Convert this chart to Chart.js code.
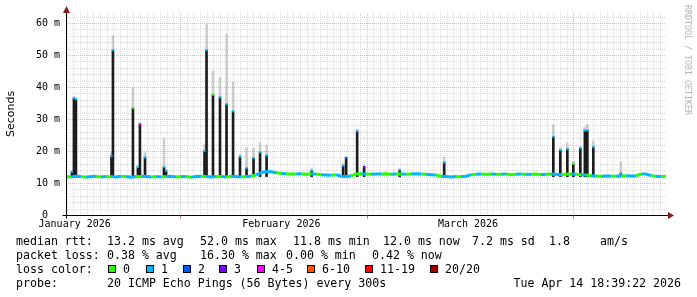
<!DOCTYPE html>
<html>
<head>
<meta charset="utf-8">
<script src="https://cdn.jsdelivr.net/npm/chart.js@4/dist/chart.umd.min.js"></script>
<style>
  html, body { margin: 0; padding: 0; background: #fff; }
  canvas { display: block; }
</style>
</head>
<body>
<canvas id="smokeChart" width="697" height="297"></canvas>
<script>
// time axis in days since Jan 1 2026 00:00
const START_DAY = 13.9;
const END_DAY = 103.9;
const STEP = 0.75;

// median rtt (ms) along the baseline, one value per step
const medianRtt = [
  12.0, 11.9, 12.1, 12.0, 11.8, 12.0, 12.1, 11.9, 12.0, 12.0,
  11.9, 12.1, 12.0, 11.8, 12.0, 12.0, 12.1, 11.9, 12.0, 11.9,
  12.0, 12.1, 11.9, 12.0, 12.0, 11.8, 12.0, 12.1, 12.0, 11.9,
  12.0, 12.0, 11.9, 12.1, 12.0, 11.9, 12.0, 12.1,
  12.5, 13.2, 13.6, 13.5, 13.2, 13.0, 12.9,
  12.8, 12.8, 12.9, 12.7, 12.8, 12.8, 12.6, 12.5, 12.4, 12.6,
  12.1, 12.0, 12.2,
  12.8, 12.9, 12.8, 12.7, 12.8, 12.8, 12.9, 12.7, 12.8, 12.8, 12.7, 12.8, 12.9, 12.8, 12.7, 12.6, 12.5,
  12.1, 12.0, 11.9, 12.0, 12.0, 12.1,
  12.6, 12.7, 12.8, 12.7, 12.8, 12.7, 12.7, 12.8, 12.6, 12.7, 12.8, 12.7,
  12.7, 12.8, 12.6, 12.7, 12.8, 12.7, 12.6, 12.7, 12.8, 12.7, 12.6, 12.5,
  12.3, 12.2, 12.1, 12.2, 12.2, 12.1, 12.2, 12.3, 12.2, 12.2,
  12.8, 12.8,
  12.3, 12.1, 12.0, 12.1
];
// lost pings (index into lossColors) for each baseline step
const medianLoss = [
  0, 1, 1, 0, 1, 1, 0, 1, 0, 1,
  1, 0, 1, 1, 0, 1, 1, 0, 1, 0,
  1, 1, 0, 1, 0, 1, 1, 0, 1, 1,
  0, 1, 0, 1, 1, 0, 1, 0,
  1, 1, 1, 1, 0, 1, 0,
  0, 1, 0, 0, 1, 0, 1, 1, 0, 1,
  1, 1, 0,
  0, 1, 0, 1, 1, 0, 0, 1, 0, 1, 0, 1, 1, 0, 1, 1, 0,
  1, 1, 1, 0, 1, 1,
  0, 1, 0, 0, 1, 0, 1, 0, 0, 1, 0, 1,
  0, 0, 1, 0, 1, 1, 0, 0, 1, 0, 1, 0,
  1, 0, 1, 1, 0, 1, 0, 1, 1, 0,
  1, 1,
  0, 1, 0, 1
];

// latency spikes
const spikeDays = [
  14.79, 15.09, 15.39, 20.72, 20.94, 23.94, 24.69, 24.99, 25.75, 28.6,
  28.9, 34.68, 34.98, 35.95, 37.0, 37.98, 38.96, 40.0, 40.98, 42.03,
  43.01, 43.99, 50.74, 55.47, 55.92, 57.57, 58.62, 63.95, 70.63, 87.0,
  88.05, 89.1, 90.0, 91.05, 91.73, 92.1, 93.0, 97.13
];
const spikeTops = [
  13.5, 36.5, 36.2, 18.4, 51.5, 33.4, 15.0, 28.4, 18.0, 15.0,
  13.8, 20.0, 51.5, 37.6, 36.8, 34.6, 32.4, 18.2, 14.6, 17.8,
  19.6, 18.6, 13.8, 15.4, 17.8, 26.2, 15.0, 14.0, 16.4, 24.4,
  20.3, 20.6, 16.0, 20.9, 26.4, 26.4, 21.2, 13.0
];
const spikeTails = [
  13.8, 37.0, 36.6, 19.5, 56.0, 39.7, 15.5, 28.8, 19.5, 24.0,
  14.2, 22.0, 59.5, 45.0, 43.0, 56.5, 41.5, 19.0, 21.0, 21.0,
  22.6, 21.9, 14.5, 16.0, 18.3, 26.8, 15.5, 14.5, 18.2, 28.2,
  21.0, 22.5, 16.8, 21.5, 27.5, 28.2, 23.2, 16.7
];
const spikeLoss = [
  1, 1, 1, 1, 1, 0, 1, 4, 1, 1,
  1, 1, 1, 0, 1, 1, 1, 1, 1, 1,
  1, 1, 1, 1, 2, 1, 3, 1, 1, 1,
  1, 1, 0, 1, 1, 1, 1, 1
];
const SPIKE_BASE = 12;

const lossLabels = ['0', '1', '2', '3', '4-5', '6-10', '11-19', '20/20'];
const lossColors = ['#26ff00', '#00b8ff', '#0059ff', '#7e00ff', '#ff00ff', '#ff5500', '#ff0000', '#a10000'];

const yTicks = [0, 10, 20, 30, 40, 50, 60];
const monthLabels = ['January 2026', 'February 2026', 'March 2026'];
const monthLabelDays = [15.2, 46.2, 74.2];
const monthStartDays = [31, 59, 90];

const rttStats = ['13.2 ms avg', '52.0 ms max', '11.8 ms min', '12.0 ms now', '7.2 ms sd', '1.8', 'am/s'];
const lossStats = ['0.38 % avg', '16.30 % max', '0.00 % min', '0.42 % now'];
const probeText = '20 ICMP Echo Pings (56 Bytes) every 300s';
const stampText = 'Tue Apr 14 18:39:22 2026';

// legend layout (px)
const rttStatX = [107, 200, 293, 383, 472, 549, 600];
const lossStatX = [107, 200, 286, 372];
const lossBoxX = [108, 146, 183, 219, 257, 307, 365, 430];
const legendRows = [245, 259, 273, 287];

const MONO = '"DejaVu Sans Mono", monospace';

const rrdDecor = {
  id: 'rrdDecor',
  beforeDatasetsDraw(chart) {
    const { ctx, chartArea: a, scales: { x, y } } = chart;
    ctx.save();
    ctx.lineWidth = 1;
    ctx.setLineDash([1, 1]);

    // minor grid
    ctx.strokeStyle = 'rgba(190,190,190,0.55)';
    ctx.beginPath();
    for (let d = Math.ceil(x.min); d <= x.max; d++) {
      if (monthStartDays.includes(d)) continue;
      const px = Math.round(x.getPixelForValue(d)) + 0.5;
      ctx.moveTo(px, a.top);
      ctx.lineTo(px, a.bottom);
    }
    for (let v = 2; v < y.max; v += 2) {
      if (v % 10 === 0) continue;
      const py = Math.round(y.getPixelForValue(v)) + 0.5;
      ctx.moveTo(a.left, py);
      ctx.lineTo(a.right, py);
    }
    ctx.stroke();

    // major grid
    ctx.strokeStyle = 'rgba(220,130,130,0.6)';
    ctx.beginPath();
    monthStartDays.forEach(d => {
      const px = Math.round(x.getPixelForValue(d)) + 0.5;
      ctx.moveTo(px, a.top);
      ctx.lineTo(px, a.bottom);
    });
    yTicks.forEach(v => {
      if (v === 0) return;
      const py = Math.round(y.getPixelForValue(v)) + 0.5;
      ctx.moveTo(a.left, py);
      ctx.lineTo(a.right, py);
    });
    ctx.stroke();
    ctx.restore();
  },
  afterDraw(chart) {
    const { ctx, chartArea: a, scales: { x, y } } = chart;
    ctx.save();
    ctx.setLineDash([]);
    ctx.lineWidth = 1;

    // axes
    const ax = Math.round(a.left) + 0.5;
    const ay = Math.round(a.bottom) + 0.5;
    ctx.strokeStyle = '#000';
    ctx.beginPath();
    ctx.moveTo(ax, ay + 3);
    ctx.lineTo(ax, a.top - 4);
    ctx.moveTo(ax - 4, ay);
    ctx.lineTo(a.right + 3, ay);
    ctx.stroke();

    // month ticks under the axis
    ctx.strokeStyle = 'rgba(200,90,90,0.9)';
    ctx.beginPath();
    monthStartDays.forEach(d => {
      const px = Math.round(x.getPixelForValue(d)) + 0.5;
      ctx.moveTo(px, ay);
      ctx.lineTo(px, ay + 3);
    });
    ctx.stroke();

    // arrows
    ctx.fillStyle = '#7f1f1f';
    ctx.beginPath();
    ctx.moveTo(ax, a.top - 7);
    ctx.lineTo(ax - 3.5, a.top);
    ctx.lineTo(ax + 3.5, a.top);
    ctx.closePath();
    ctx.fill();
    ctx.beginPath();
    ctx.moveTo(a.right + 8, ay);
    ctx.lineTo(a.right + 2, ay - 3.5);
    ctx.lineTo(a.right + 2, ay + 3.5);
    ctx.closePath();
    ctx.fill();

    // month labels
    ctx.fillStyle = '#000';
    ctx.font = '10px ' + MONO;
    ctx.textAlign = 'center';
    ctx.textBaseline = 'alphabetic';
    monthLabels.forEach((t, i) => ctx.fillText(t, x.getPixelForValue(monthLabelDays[i]), 227));

    // y title
    ctx.save();
    ctx.translate(11, (a.top + a.bottom) / 2);
    ctx.rotate(-Math.PI / 2);
    ctx.font = '11px "DejaVu Sans", sans-serif';
    ctx.textBaseline = 'middle';
    ctx.fillText('Seconds', 0, 0);
    ctx.restore();

    // watermark
    ctx.save();
    ctx.translate(687, 5);
    ctx.rotate(Math.PI / 2);
    ctx.font = '8.3px ' + MONO;
    ctx.fillStyle = '#b4b4b4';
    ctx.textAlign = 'left';
    ctx.textBaseline = 'middle';
    ctx.fillText('RRDTOOL / TOBI OETIKER', 0, 0);
    ctx.restore();

    // legend
    ctx.font = '11.6px ' + MONO;
    ctx.textAlign = 'left';
    ctx.fillStyle = '#000';
    ctx.fillText('median rtt:', 16, legendRows[0]);
    rttStats.forEach((t, i) => ctx.fillText(t, rttStatX[i], legendRows[0]));
    ctx.fillText('packet loss:', 16, legendRows[1]);
    lossStats.forEach((t, i) => ctx.fillText(t, lossStatX[i], legendRows[1]));
    ctx.fillText('loss color:', 16, legendRows[2]);
    lossLabels.forEach((t, i) => {
      const bx = lossBoxX[i];
      ctx.fillStyle = lossColors[i];
      ctx.fillRect(bx, legendRows[2] - 8, 8, 8);
      ctx.strokeStyle = '#000';
      ctx.strokeRect(bx + 0.5, legendRows[2] - 7.5, 7, 7);
      ctx.fillStyle = '#000';
      ctx.fillText(t, bx + 15, legendRows[2]);
    });
    ctx.fillText('probe:', 16, legendRows[3]);
    ctx.fillText(probeText, 107, legendRows[3]);
    ctx.textAlign = 'right';
    ctx.fillText(stampText, 681, legendRows[3]);
    ctx.restore();
  }
};

const ctx = document.getElementById('smokeChart').getContext('2d');

const smokeChart = new Chart(ctx, {
  type: 'line',
  data: {
    datasets: [
      {
        type: 'bar',
        label: 'smoke',
        data: spikeDays.map((d, i) => ({ x: d, y: [spikeTops[i], spikeTails[i]] })),
        backgroundColor: 'rgba(150,150,150,0.45)',
        barThickness: 2,
        grouped: false,
        order: 4
      },
      {
        type: 'bar',
        label: 'spikes',
        data: spikeDays.map((d, i) => ({ x: d, y: [SPIKE_BASE, spikeTops[i]] })),
        backgroundColor: '#1c1c1c',
        barThickness: 2,
        grouped: false,
        order: 3
      },
      {
        label: 'median rtt',
        data: medianRtt.map((v, i) => ({ x: START_DAY + i * STEP, y: v })),
        borderColor: lossColors[0],
        borderWidth: 3,
        borderCapStyle: 'butt',
        borderJoinStyle: 'miter',
        pointRadius: 0,
        tension: 0,
        segment: {
          borderColor: c => lossColors[medianLoss[c.p0DataIndex]]
        },
        order: 2
      },
      {
        label: 'spike median',
        data: spikeDays.map((d, i) => ({ x: d, y: spikeTops[i] })),
        showLine: false,
        pointStyle: 'rect',
        pointRadius: 1.5,
        pointBorderWidth: 0,
        pointBackgroundColor: spikeLoss.map(l => lossColors[l]),
        order: 1
      }
    ]
  },
  options: {
    responsive: false,
    animation: false,
    devicePixelRatio: 1,
    layout: { padding: { left: 0, right: 31, top: 13, bottom: 82 } },
    plugins: {
      legend: { display: false },
      tooltip: { enabled: false }
    },
    scales: {
      x: {
        type: 'linear',
        min: START_DAY,
        max: END_DAY,
        offset: false,
        display: false
      },
      y: {
        type: 'linear',
        min: 0,
        max: 63.1,
        afterBuildTicks: s => { s.ticks = yTicks.map(v => ({ value: v })); },
        afterFit: s => { s.width = 66; },
        grid: { display: false, drawTicks: false },
        border: { display: false },
        ticks: {
          color: '#000',
          padding: 6,
          font: { family: 'DejaVu Sans Mono', size: 10 },
          callback: v => (v === 0 ? '0  ' : v + ' m')
        }
      }
    }
  },
  plugins: [rrdDecor]
});
</script>
</body>
</html>
